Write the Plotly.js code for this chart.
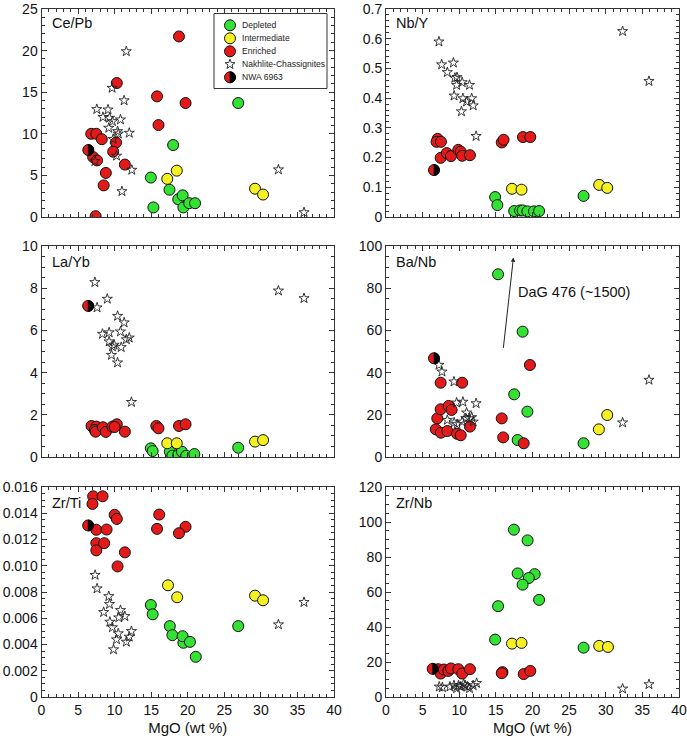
<!DOCTYPE html>
<html><head><meta charset="utf-8">
<script src="https://cdn.plot.ly/plotly-3.0.1.min.js"></script>
<style>html,body{margin:0;padding:0;background:#fff}</style>
</head><body><div id="chart" style="width:687px;height:739px"></div>
<script>
// ---------- DATA ----------
const xTitle = 'MgO (wt %)';
const panelNames = ['Ce/Pb', 'Nb/Y', 'La/Yb', 'Ba/Nb', 'Zr/Ti', 'Zr/Nb'];
const groupNames = ['Depleted', 'Intermediate', 'Enriched', 'Nakhlite-Chassignites', 'NWA 6963'];

// Ce/Pb
const cePbDepX = [26.9, 18.0, 14.95, 15.3, 17.5, 18.7, 19.3, 19.4, 20.2, 21.0];
const cePbDepY = [13.7, 8.65, 4.74, 1.15, 3.28, 2.13, 2.6, 1.15, 1.66, 1.66];
const cePbIntX = [18.5, 17.2, 29.2, 30.3];
const cePbIntY = [5.57, 4.58, 3.4, 2.7];
const cePbEnrX = [18.8, 10.3, 15.8, 19.7, 16.0, 6.8, 7.5, 8.25, 10.2, 9.8, 7.06, 7.6, 11.4, 8.8, 8.5, 7.4];
const cePbEnrY = [21.7, 16.1, 14.5, 13.7, 11.05, 10.0, 10.0, 9.35, 8.95, 7.85, 7.2, 6.8, 6.3, 5.3, 3.8, 0.1];
const cePbNakX = [11.6, 9.66, 11.3, 7.56, 9.1, 8.4, 9.3, 10.8, 9.7, 9.2, 10.4, 12.0, 10.5, 9.8, 10.26, 7.3, 12.35, 11.0, 32.4, 35.9];
const cePbNakY = [19.9, 15.5, 14.0, 12.95, 12.9, 12.0, 11.9, 11.7, 11.5, 10.7, 10.3, 10.1, 10.0, 9.36, 7.35, 6.7, 5.65, 3.08, 5.7, 0.55];
const cePbNwaX = [6.4];
const cePbNwaY = [8.05];

// Nb/Y
const nbYDepX = [14.9, 15.2, 17.5, 18.3, 18.65, 19.3, 20.2, 20.9, 26.97];
const nbYDepY = [0.067, 0.04, 0.02, 0.022, 0.022, 0.019, 0.019, 0.02, 0.071];
const nbYIntX = [17.2, 18.5, 29.1, 30.2];
const nbYIntY = [0.095, 0.092, 0.108, 0.098];
const nbYEnrX = [7.05, 6.9, 7.5, 7.46, 8.3, 8.87, 9.87, 10.2, 10.4, 11.46, 15.8, 16.05, 18.7, 19.7];
const nbYEnrY = [0.263, 0.253, 0.253, 0.199, 0.215, 0.205, 0.226, 0.22, 0.206, 0.208, 0.251, 0.26, 0.269, 0.269];
const nbYNakX = [7.23, 7.6, 9.2, 8.37, 9.4, 9.7, 10.4, 9.64, 11.4, 9.3, 10.5, 11.7, 11.0, 11.9, 10.3, 12.3, 32.3, 35.9];
const nbYNakY = [0.59, 0.513, 0.519, 0.487, 0.468, 0.47, 0.453, 0.444, 0.444, 0.408, 0.399, 0.399, 0.388, 0.375, 0.355, 0.272, 0.625, 0.457];
const nbYNwaX = [6.55];
const nbYNwaY = [0.158];

// La/Yb
const laYbDepX = [14.95, 15.2, 17.55, 17.9, 18.7, 19.2, 19.8, 20.9, 26.9];
const laYbDepY = [0.41, 0.28, 0.25, 0.06, 0.1, 0.25, 0.06, 0.14, 0.44];
const laYbIntX = [17.2, 18.5, 29.2, 30.3];
const laYbIntY = [0.65, 0.65, 0.73, 0.8];
const laYbEnrX = [6.84, 7.5, 7.3, 7.4, 8.4, 8.8, 9.7, 10.3, 10.0, 11.4, 15.7, 16.0, 18.8, 19.7];
const laYbEnrY = [1.47, 1.44, 1.28, 1.2, 1.41, 1.19, 1.44, 1.55, 1.42, 1.2, 1.47, 1.36, 1.47, 1.55];
const laYbNakX = [7.3, 7.6, 9.0, 10.4, 11.3, 8.34, 9.25, 10.8, 12.0, 11.6, 9.25, 9.93, 9.7, 10.9, 9.57, 10.4, 12.3, 32.4, 35.9];
const laYbNakY = [8.28, 7.08, 7.49, 6.68, 6.37, 5.83, 5.9, 5.94, 5.65, 5.57, 5.47, 5.31, 5.23, 5.2, 4.83, 4.47, 2.6, 7.88, 7.52];
const laYbNwaX = [6.38];
const laYbNwaY = [7.16];

// Ba/Nb
const baNbDepX = [15.3, 18.65, 17.5, 19.3, 17.97, 26.97];
const baNbDepY = [86.6, 59.4, 29.7, 21.5, 8.06, 6.5];
const baNbIntX = [29.06, 30.2];
const baNbIntY = [13.1, 19.9];
const baNbEnrX = [19.65, 15.8, 16.0, 18.8, 7.46, 10.4, 7.0, 7.46, 8.55, 8.96, 6.8, 7.5, 8.37, 9.7, 10.2, 11.46];
const baNbEnrY = [43.6, 18.3, 9.3, 6.5, 35.2, 35.2, 18.3, 22.6, 24.2, 22.3, 13.1, 11.5, 12.3, 11.0, 10.3, 14.4];
const baNbNakX = [7.23, 7.64, 9.28, 9.64, 10.5, 12.3, 11.0, 8.37, 9.3, 9.7, 10.4, 11.4, 11.9, 11.7, 10.9, 32.3, 35.9];
const baNbNakY = [43.6, 40.4, 35.7, 25.7, 26.1, 25.4, 21.0, 17.5, 16.3, 15.5, 16.7, 18.3, 16.7, 18.8, 18.3, 16.3, 36.5];
const baNbNwaX = [6.55];
const baNbNwaY = [46.8];
const dagLabel = 'DaG 476 (~1500)';
const dagArrowFrom = [16.0, 51.0];
const dagArrowTo = [17.4, 94.6];
const dagLabelAt = [17.8, 78.0];

// Zr/Ti
const zrTiDepX = [14.95, 15.2, 17.55, 17.9, 19.4, 19.3, 20.3, 21.1, 26.9];
const zrTiDepY = [0.00701, 0.0063, 0.0054, 0.00471, 0.00413, 0.00463, 0.0042, 0.00306, 0.0054];
const zrTiIntX = [17.3, 18.55, 29.2, 30.3];
const zrTiIntY = [0.00851, 0.0076, 0.00772, 0.00737];
const zrTiEnrX = [7.06, 8.35, 6.97, 10.0, 10.3, 16.1, 15.8, 7.5, 8.9, 19.7, 18.8, 7.5, 8.57, 7.5, 11.4, 10.4];
const zrTiEnrY = [0.01529, 0.01529, 0.01471, 0.01388, 0.01357, 0.0139, 0.01281, 0.01274, 0.01276, 0.01297, 0.01248, 0.01172, 0.01172, 0.01117, 0.01102, 0.00995];
const zrTiNakX = [7.33, 7.6, 9.2, 9.3, 8.5, 10.8, 11.4, 10.57, 9.35, 9.7, 10.5, 12.3, 12.0, 10.26, 11.6, 9.85, 35.9, 32.4];
const zrTiNakY = [0.00929, 0.00826, 0.00767, 0.00707, 0.00646, 0.00661, 0.00615, 0.00605, 0.00572, 0.0053, 0.00484, 0.00501, 0.00458, 0.00438, 0.0042, 0.00362, 0.00722, 0.00552];
const zrTiNwaX = [6.38];
const zrTiNwaY = [0.01307];
const zrTiTickVals = [0, 0.002, 0.004, 0.006, 0.008, 0.010, 0.012, 0.014, 0.016];
const zrTiTickText = ['0', '0.002', '0.004', '0.006', '0.008', '0.010', '0.012', '0.014', '0.016'];

// Zr/Nb
const zrNbDepX = [17.46, 19.33, 17.97, 20.3, 19.5, 18.65, 20.9, 15.3, 14.9, 26.97];
const zrNbDepY = [95.6, 89.5, 70.6, 70.2, 68.0, 64.2, 55.5, 51.9, 32.8, 28.2];
const zrNbIntX = [17.2, 18.5, 29.1, 30.3];
const zrNbIntY = [30.5, 30.9, 29.2, 28.6];
const zrNbEnrX = [7.14, 7.46, 7.9, 8.5, 8.87, 9.87, 10.4, 11.46, 15.9, 15.8, 18.8, 19.7];
const zrNbEnrY = [15.9, 13.4, 15.7, 14.9, 16.3, 15.9, 13.4, 15.9, 14.2, 13.6, 13.1, 14.9];
const zrNbNakX = [7.27, 7.7, 8.73, 9.28, 9.64, 10.2, 10.6, 11.1, 11.4, 11.9, 12.37, 9.9, 10.8, 32.3, 35.9];
const zrNbNakY = [5.85, 5.5, 5.85, 6.6, 4.9, 5.85, 7.4, 5.85, 4.9, 6.6, 7.9, 6.6, 6.6, 4.7, 7.2];
const zrNbNwaX = [6.37];
const zrNbNwaY = [16.1];

const yRanges = [[0, 25], [0, 0.7], [0, 10], [0, 100], [0, 0.016], [0, 120]];
const yDticks = [5, 0.1, 2, 20, 0.002, 20];
const yMinor = [1, 0.02, 0.5, 5, 0.0005, 5];

// ---------- STYLE ----------
const W = 687, H = 739;
const FONT = '"Liberation Sans", Arial, Helvetica, sans-serif';
const colDep = '#33e233', colInt = '#f5f023', colEnr = '#e31a1a';
const AX = '#333';
const colDomains = [[41.5 / W, 334 / W], [386 / W, 679 / W]];
const rowPx = [[9, 217], [246, 457], [487, 697]];
const rowDomains = rowPx.map(r => [1 - r[1] / H, 1 - r[0] / H]);
const R = 5.5; // circle marker radius px

const panelData = [
  [cePbDepX, cePbDepY, cePbIntX, cePbIntY, cePbEnrX, cePbEnrY, cePbNakX, cePbNakY, cePbNwaX, cePbNwaY],
  [nbYDepX, nbYDepY, nbYIntX, nbYIntY, nbYEnrX, nbYEnrY, nbYNakX, nbYNakY, nbYNwaX, nbYNwaY],
  [laYbDepX, laYbDepY, laYbIntX, laYbIntY, laYbEnrX, laYbEnrY, laYbNakX, laYbNakY, laYbNwaX, laYbNwaY],
  [baNbDepX, baNbDepY, baNbIntX, baNbIntY, baNbEnrX, baNbEnrY, baNbNakX, baNbNakY, baNbNwaX, baNbNwaY],
  [zrTiDepX, zrTiDepY, zrTiIntX, zrTiIntY, zrTiEnrX, zrTiEnrY, zrTiNakX, zrTiNakY, zrTiNwaX, zrTiNwaY],
  [zrNbDepX, zrNbDepY, zrNbIntX, zrNbIntY, zrNbEnrX, zrNbEnrY, zrNbNakX, zrNbNakY, zrNbNwaX, zrNbNwaY]
];

const circ = (c) => ({symbol: 'circle', size: 2 * R, color: c, line: {color: '#111', width: 1}});
const star = {symbol: 'star-open', size: 7.6, color: '#222', line: {color: '#222', width: 0.9}};

const traces = [];
const layout = {
  width: W, height: H, margin: {l: 0, r: 0, t: 0, b: 0},
  paper_bgcolor: '#fff', plot_bgcolor: '#fff', showlegend: false,
  font: {family: FONT, color: '#111', size: 14},
  annotations: [], shapes: []
};

const halfPath = `M0,${R} C${(R*0.5523).toFixed(2)},${R} ${R},${(R*0.5523).toFixed(2)} ${R},0 C${R},${(-R*0.5523).toFixed(2)} ${(R*0.5523).toFixed(2)},${-R} 0,${-R} Z`;

panelData.forEach((d, i) => {
  const n = i + 1;
  const xa = n === 1 ? 'x' : 'x' + n, ya = n === 1 ? 'y' : 'y' + n;
  const row = Math.floor(i / 2), col = i % 2;
  const bottom = row === 2;
  const common = {xaxis: xa, yaxis: ya, mode: 'markers', type: 'scatter', hoverinfo: 'skip', showlegend: false};
  traces.push(Object.assign({x: d[0], y: d[1], name: groupNames[0], marker: circ(colDep)}, common));
  traces.push(Object.assign({x: d[2], y: d[3], name: groupNames[1], marker: circ(colInt)}, common));
  traces.push(Object.assign({x: d[4], y: d[5], name: groupNames[2], marker: circ(colEnr)}, common));
  traces.push(Object.assign({x: d[8], y: d[9], name: groupNames[4], marker: circ(colEnr)}, common));
  traces.push(Object.assign({x: d[6], y: d[7], name: groupNames[3], marker: star}, common));

  const xk = n === 1 ? 'xaxis' : 'xaxis' + n, yk = n === 1 ? 'yaxis' : 'yaxis' + n;
  layout[xk] = {
    domain: colDomains[col], anchor: ya, range: [0, 40], dtick: 5, tick0: 0,
    ticks: 'inside', ticklen: 5, tickcolor: AX, tickwidth: 1,
    showline: true, linecolor: AX, linewidth: 1, mirror: 'allticks',
    showgrid: false, zeroline: false, showticklabels: bottom, automargin: false,
    ticklabeloverflow: 'allow',
    tickfont: {size: 14, color: '#111', family: FONT},
    minor: {dtick: 1, tick0: 0, ticks: 'inside', ticklen: 3, tickcolor: AX, showgrid: false},
    fixedrange: true
  };
  if (bottom) layout[xk].title = {text: xTitle, font: {size: 15, family: FONT, color: '#111'}, standoff: 5};
  layout[yk] = {
    domain: rowDomains[row], anchor: xa, range: yRanges[i], dtick: yDticks[i], tick0: 0,
    ticks: 'inside', ticklen: 5, tickcolor: AX, tickwidth: 1,
    showline: true, linecolor: AX, linewidth: 1, mirror: 'allticks',
    showgrid: false, zeroline: false, automargin: false,
    ticklabeloverflow: 'allow',
    tickfont: {size: 14, color: '#111', family: FONT},
    minor: {dtick: yMinor[i], tick0: 0, ticks: 'inside', ticklen: 3, tickcolor: AX, showgrid: false},
    fixedrange: true
  };
  if (i === 4) {
    layout[yk].tickmode = 'array';
    layout[yk].tickvals = zrTiTickVals;
    layout[yk].ticktext = zrTiTickText;
  }
  layout.annotations.push({
    xref: xa + ' domain', yref: ya + ' domain', x: 0, y: 1, xanchor: 'left', yanchor: 'top',
    xshift: 8, yshift: row === 0 ? -4 : -6, text: panelNames[i], showarrow: false, font: {size: 14.5, family: FONT, color: '#111'}
  });
  // NWA 6963: right half black
  d[8].forEach((xv, k) => {
    layout.shapes.push({type: 'path', xref: xa, yref: ya, xsizemode: 'pixel', ysizemode: 'pixel',
      xanchor: xv, yanchor: d[9][k], path: halfPath, fillcolor: '#000', line: {color: '#000', width: 0.6}, layer: 'above'});
  });
});

// DaG 476 arrow + label (Ba/Nb panel)
layout.annotations.push({xref: 'x4', yref: 'y4', axref: 'x4', ayref: 'y4',
  x: dagArrowTo[0], y: dagArrowTo[1], ax: dagArrowFrom[0], ay: dagArrowFrom[1],
  text: '', showarrow: true, arrowhead: 2, arrowsize: 0.9, arrowwidth: 1, arrowcolor: '#222'});
layout.annotations.push({xref: 'x4', yref: 'y4', x: dagLabelAt[0], y: dagLabelAt[1], xanchor: 'left', yanchor: 'middle',
  text: dagLabel, showarrow: false, font: {size: 14.5, family: FONT, color: '#111'}});

// Manual legend (compact, as in the original) in panel 1
const lgLeft = 214, lgRight = 327, lgTop = 13.5, lgBottom = 88.5;
const lgSymX = 230, lgTextX = 240, lgRow0 = 25.3, lgStep = 13.0;
layout.shapes.push({type: 'rect', xref: 'paper', yref: 'paper', x0: lgLeft / W, x1: lgRight / W,
  y0: 1 - lgBottom / H, y1: 1 - lgTop / H, line: {color: '#333', width: 1}, fillcolor: '#fff', layer: 'above'});
const lgFill = [colDep, colInt, colEnr, null, colEnr];
function starPath(ro, ri) {
  let p = '';
  for (let k = 0; k < 10; k++) {
    const a = Math.PI / 2 + k * Math.PI / 5;
    const r = k % 2 === 0 ? ro : ri;
    p += (k === 0 ? 'M' : 'L') + (r * Math.cos(a)).toFixed(2) + ',' + (r * Math.sin(a)).toFixed(2) + ' ';
  }
  return p + 'Z';
}
groupNames.forEach((g, k) => {
  const yc = 1 - (lgRow0 + k * lgStep) / H;
  const base = {xref: 'paper', yref: 'paper', xsizemode: 'pixel', ysizemode: 'pixel', xanchor: lgSymX / W, yanchor: yc, layer: 'above'};
  if (lgFill[k]) {
    layout.shapes.push(Object.assign({type: 'circle', x0: -R, x1: R, y0: -R, y1: R, fillcolor: lgFill[k], line: {color: '#111', width: 1}}, base));
  } else {
    layout.shapes.push(Object.assign({type: 'path', path: starPath(5.2, 2.1), fillcolor: 'rgba(0,0,0,0)', line: {color: '#222', width: 0.9}}, base));
  }
  if (k === 4) layout.shapes.push(Object.assign({type: 'path', path: halfPath, fillcolor: '#000', line: {color: '#000', width: 0.6}}, base));
  layout.annotations.push({xref: 'paper', yref: 'paper', x: lgTextX / W, y: yc, xanchor: 'left', yanchor: 'middle',
    text: g, showarrow: false, font: {size: 8.6, family: FONT, color: '#222'}});
});

Plotly.newPlot('chart', traces, layout, {displayModeBar: false, staticPlot: true});
</script>
</body></html>
